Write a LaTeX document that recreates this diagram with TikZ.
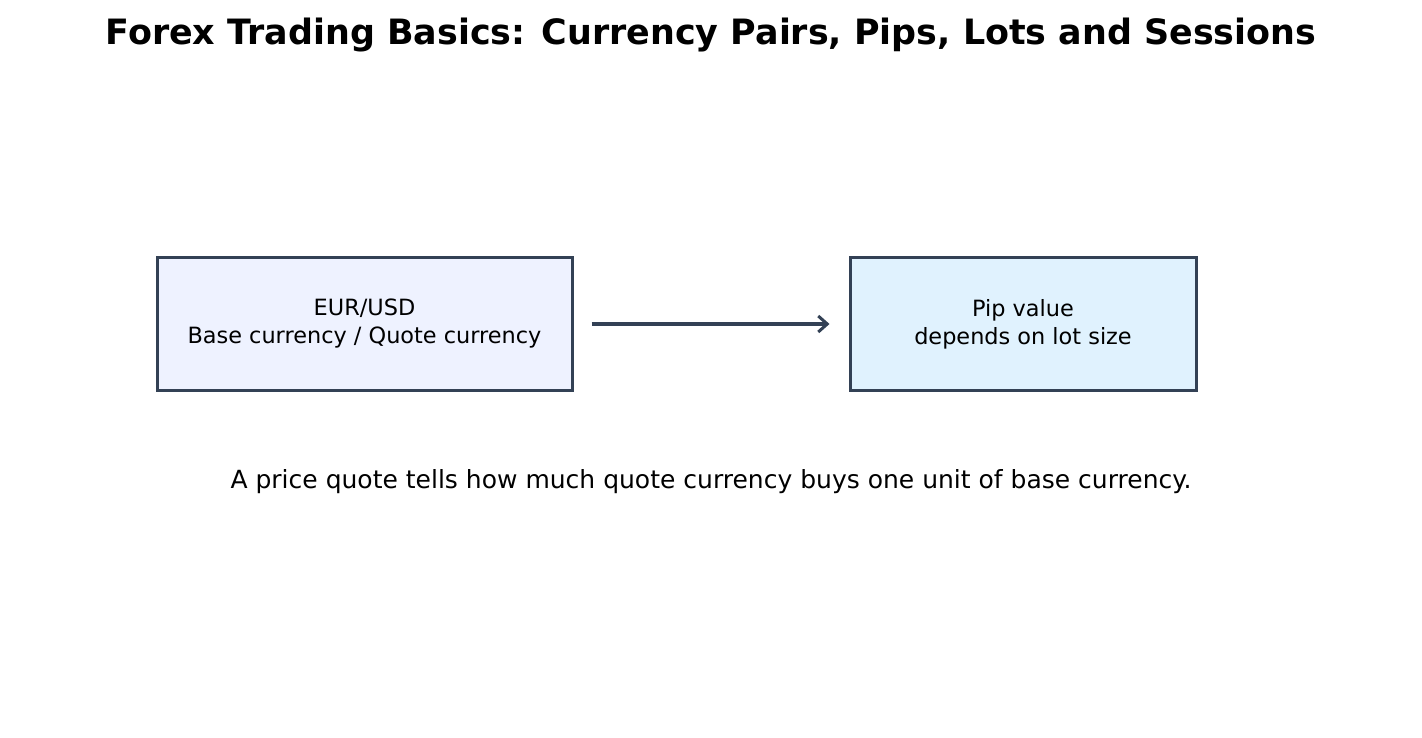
\documentclass[tikz,border=0pt]{standalone}
\usepackage{fontspec}
\setmainfont{DejaVu Sans}
\usepackage{xcolor}
\usetikzlibrary{arrows.meta, positioning}

\definecolor{edgeslate}{HTML}{334155}
\definecolor{pairfill}{HTML}{EEF2FF}
\definecolor{pipfill}{HTML}{E0F2FE}

\tikzset{
  infobox/.style={draw=edgeslate, line width=3pt, align=center, inner sep=0pt,
    font=\fontsize{22.4}{28}\selectfont},
  flowarrow/.style={-{Straight Barb[length=9pt, width=16pt, line width=3pt]},
    draw=edgeslate, line width=3.4pt}
}

\begin{document}
\begin{tikzpicture}[x=1pt, y=-1pt]
  \useasboundingbox (0,0) rectangle (1422,738);

  % Title
  \node[font=\fontsize{34.9}{40}\bfseries] (title) at (711,35)
    {Forex Trading Basics: Currency Pairs, Pips, Lots and Sessions};

  % Currency pair and pip value
  \node[infobox, fill=pairfill, minimum width=415pt, minimum height=132pt] (pair) at (364.5,324)
    {EUR/USD\\Base currency / Quote currency};
  \node[infobox, fill=pipfill, minimum width=346pt, minimum height=132pt] (pip) at (1023,324)
    {Pip value\\depends on lot size};
  \draw[flowarrow, shorten <=18pt, shorten >=19pt] (pair) -- (pip);

  % Caption
  \node[font=\fontsize{25}{30}\selectfont] (caption) at (711,482)
    {A price quote tells how much quote currency buys one unit of base currency.};
\end{tikzpicture}
\end{document}
